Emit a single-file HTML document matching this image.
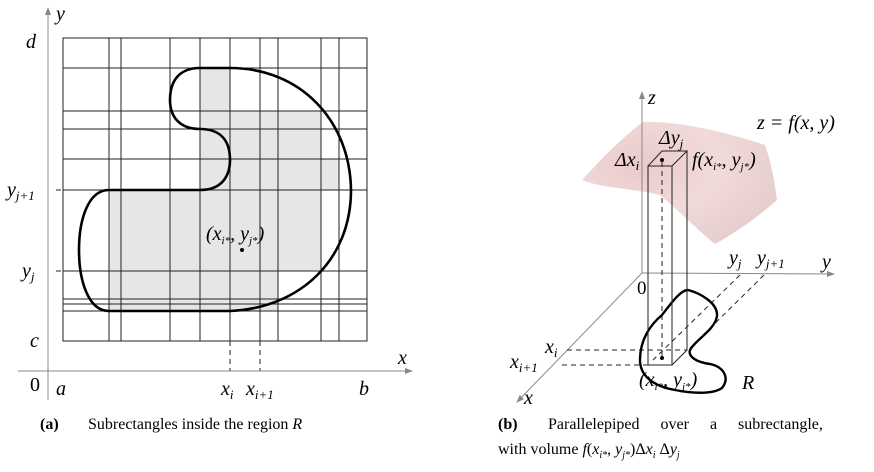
<!DOCTYPE html>
<html><head><meta charset="utf-8"><style>
html,body{margin:0;padding:0;background:#fff;}
svg{display:block;font-family:"Liberation Serif",serif;}
.it{font-style:italic;}
</style></head><body>
<svg width="874" height="472" viewBox="0 0 874 472" xmlns="http://www.w3.org/2000/svg">
<defs>
<marker id="ah" markerWidth="8" markerHeight="6" refX="7" refY="3" orient="auto"><path d="M0,0 L8,3 L0,6 Z" fill="#888"/></marker>
<radialGradient id="pg" cx="0.3" cy="0.35" r="0.8"><stop offset="0" stop-color="#e8c4c4"/><stop offset="0.5" stop-color="#f0d6d6"/><stop offset="1" stop-color="#e2c6c6"/></radialGradient>
</defs>
<!-- LEFT PANEL -->
<g fill="#e6e6e6" stroke="none">
<rect x="109" y="190" width="169" height="121"/>
<rect x="200" y="68" width="30" height="122"/>
<rect x="230" y="111" width="91" height="160"/>
<rect x="321" y="159" width="18" height="31"/>
</g>
<g stroke="#222" stroke-width="1" fill="none">
<rect x="63" y="38" width="304" height="303"/>
<path d="M109,38V341M121,38V341M170,38V341M200,38V341M230,38V341M260,38V341M278,38V341M321,38V341M339,38V341"/>
<path d="M63,68H367M63,111H367M63,129H367M63,159H367M63,190H367M63,271H367M63,299H367M63,304H367M63,311H367"/>
</g>
<path d="M230,341V371M260,341V371M56,190H63M56,271H63" stroke="#222" stroke-dasharray="5,4"/>
<line x1="48" y1="400" x2="48" y2="8" stroke="#888" marker-end="url(#ah)"/>
<line x1="18" y1="371" x2="412" y2="371" stroke="#888" marker-end="url(#ah)"/>
<path d="M109,190 H200 C225,190 230,172 230,160 C230,140 220,129 200,129 C178,129 170,115 170,100 C170,80 180,68 200,68 H230 C300,68 350,120 351,190 C351,260 300,308 230,311 H109 C88,311 79,280 79,250 C79,220 88,190 109,190 Z" fill="none" stroke="#000" stroke-width="2.6"/>
<circle cx="242" cy="250" r="2" fill="#000"/>
<g font-size="20" class="it">
<text x="56" y="20">y</text>
<text x="26" y="48">d</text>
<text x="7" y="196">y<tspan font-size="13" dy="4">j+1</tspan></text>
<text x="22" y="277">y<tspan font-size="13" dy="4">j</tspan></text>
<text x="30" y="347">c</text>
<text x="398" y="364">x</text>
<text x="56" y="395">a</text>
<text x="221" y="395">x<tspan font-size="13" dy="4">i</tspan></text>
<text x="246" y="395">x<tspan font-size="13" dy="4">i+1</tspan></text>
<text x="359" y="395">b</text>
<text x="206" y="240">(x<tspan font-size="11" dy="4">i*</tspan><tspan dy="-4">, y</tspan><tspan font-size="11" dy="4">j*</tspan><tspan dy="-4">)</tspan></text>
</g>
<text x="30" y="391" font-size="20">0</text>
<!-- RIGHT PANEL -->
<path d="M582,180 C600,160 625,135 643,122 C680,120 735,135 765,145 C772,165 775,185 777,200 C760,215 740,230 715,244 C700,232 680,212 660,195 C630,188 600,188 582,180 Z" fill="url(#pg)" opacity="0.9"/>
<line x1="642" y1="273" x2="642" y2="92" stroke="#888" marker-end="url(#ah)"/>
<line x1="642" y1="273" x2="834" y2="274" stroke="#888" marker-end="url(#ah)"/>
<line x1="642" y1="273" x2="517" y2="402" stroke="#888" marker-end="url(#ah)"/>
<g stroke="#222" stroke-width="1" fill="none" stroke-dasharray="5,4">
<path d="M567,350H687M562,365H648M740,275L653,360M764,275L690,348M662,162V356"/>
</g>
<path d="M688,290 C700,293 718,303 717,316 C715,330 695,340 690,350 C688,356 695,362 710,364 C724,367 730,378 722,388 C712,395 690,393 675,390 C652,386 640,375 640,360 C640,340 650,325 662,315 C670,305 680,290 688,290 Z" fill="none" stroke="#000" stroke-width="2.4"/>
<g stroke="#222" stroke-width="1" fill="none">
<path d="M648,166V365H672V166ZM648,166L662,151H687L672,166M687,151V350L672,365"/>
</g>
<circle cx="662" cy="160" r="2" fill="#000"/>
<circle cx="662" cy="358" r="2" fill="#000"/>
<g font-size="20" class="it">
<text x="648" y="104">z</text>
<text x="757" y="129">z = f(x, y)</text>
<text x="659" y="144">Δy<tspan font-size="13" dy="4">j</tspan></text>
<text x="615" y="166">Δx<tspan font-size="13" dy="4">i</tspan></text>
<text x="692" y="166">f(x<tspan font-size="11" dy="4">i*</tspan><tspan dy="-4">, y</tspan><tspan font-size="11" dy="4">j*</tspan><tspan dy="-4">)</tspan></text>
<text x="729" y="264">y<tspan font-size="13" dy="4">j</tspan></text>
<text x="757" y="264">y<tspan font-size="13" dy="4">j+1</tspan></text>
<text x="822" y="268">y</text>
<text x="545" y="353">x<tspan font-size="13" dy="4">i</tspan></text>
<text x="510" y="368">x<tspan font-size="13" dy="4">i+1</tspan></text>
<text x="524" y="404">x</text>
<text x="639" y="386">(x<tspan font-size="11" dy="4">i*</tspan><tspan dy="-4">, y</tspan><tspan font-size="11" dy="4">j*</tspan><tspan dy="-4">)</tspan></text>
<text x="742" y="389">R</text>
</g>
<text x="637" y="294" font-size="19">0</text>
<!-- captions -->
<g font-size="16">
<text x="40" y="429"><tspan font-weight="bold">(a)</tspan><tspan x="88">Subrectangles inside the region </tspan><tspan class="it">R</tspan></text>
<text x="498" y="429" word-spacing="17"><tspan font-weight="bold">(b)</tspan><tspan x="548">Parallelepiped over a subrectangle,</tspan></text>
<text x="498" y="454">with volume <tspan class="it">f</tspan>(<tspan class="it">x</tspan><tspan font-size="10" dy="4" class="it">i*</tspan><tspan dy="-4">, </tspan><tspan class="it">y</tspan><tspan font-size="10" dy="4" class="it">j*</tspan><tspan dy="-4">)Δ</tspan><tspan class="it">x</tspan><tspan font-size="10" dy="4" class="it">i</tspan><tspan dy="-4"> Δ</tspan><tspan class="it">y</tspan><tspan font-size="10" dy="4" class="it">j</tspan></text>
</g>
</svg>
</body></html>
